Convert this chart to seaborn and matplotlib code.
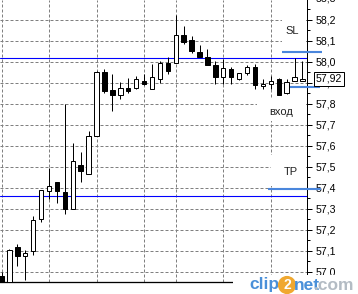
import numpy as np
import pandas as pd
import matplotlib
matplotlib.use("Agg")
import matplotlib.pyplot as plt
from matplotlib.patches import Rectangle
from matplotlib.ticker import MultipleLocator, FuncFormatter, NullFormatter
from matplotlib.transforms import blended_transform_factory
import seaborn as sns

# ---------------- data ----------------
opens  = [56.98, 56.94, 57.118, 57.078, 57.099, 57.254, 57.387, 57.429, 57.380, 57.298,
          57.508, 57.465, 57.646, 57.954, 57.867, 57.844, 57.875, 57.875, 57.908, 57.873,
          57.917, 57.994, 57.994, 58.129, 58.103, 58.048, 58.025, 57.984, 57.927, 57.965,
          57.917, 57.946, 57.975, 57.886, 57.894, 57.919, 57.854, 57.908, 57.908]
highs  = [57.00, 57.11, 57.133, 57.106, 57.267, 57.390, 57.497, 57.430, 57.799, 57.613,
          57.571, 57.671, 57.955, 57.965, 57.943, 57.905, 57.924, 57.933, 57.943, 57.990,
          58.003, 58.022, 58.224, 58.171, 58.124, 58.081, 58.060, 58.006, 58.016, 57.978,
          57.948, 57.984, 57.989, 57.921, 57.933, 57.925, 57.919, 58.021, 58.003]
lows   = [56.93, 56.93, 57.029, 56.962, 57.082, 57.238, 57.348, 57.330, 57.275, 57.298,
          57.430, 57.465, 57.646, 57.851, 57.768, 57.822, 57.851, 57.870, 57.889, 57.870,
          57.899, 57.943, 57.994, 58.087, 58.041, 58.022, 57.984, 57.895, 57.895, 57.895,
          57.913, 57.940, 57.870, 57.870, 57.870, 57.844, 57.848, 57.908, 57.908]
closes = [56.94, 57.105, 57.078, 57.090, 57.248, 57.390, 57.408, 57.387, 57.298, 57.529,
          57.480, 57.646, 57.954, 57.863, 57.844, 57.875, 57.863, 57.917, 57.894, 57.927,
          57.994, 57.956, 58.127, 58.094, 58.054, 58.025, 57.984, 57.927, 57.973, 57.927,
          57.946, 57.978, 57.892, 57.897, 57.908, 57.844, 57.906, 57.927, 57.92]
bar_index = list(range(len(opens)))

grid_bars = [0, 6, 12, 18, 22, 28, 34]          # vertical separators
blue_levels = [58.018, 57.363]                   # long blue lines
trade_names = ["SL", "вход", "TP"]
trade_levels = [58.049, 57.883, 57.395]
last_price = 57.92

df = pd.DataFrame({"i": bar_index, "o": opens, "h": highs, "l": lows, "c": closes})
df["up"] = df["c"] >= df["o"]

# ---------------- figure ----------------
W, H = 358, 294
sns.set_theme(style="white")
plt.rcParams["font.family"] = ["Liberation Sans", "DejaVu Sans"]

fig = plt.figure(figsize=(W / 100, H / 100), dpi=100)
fig.patch.set_facecolor("white")
ax = fig.add_axes([0, 12 / H, 307 / W, 282 / H])
ax.set_facecolor("white")

PX = 0.72  # one pixel in points


def fx(px):
    return px / W


def fy(py):
    return 1 - py / H


def xd(px):
    return (px - 1.5) / 7.92


# grid
ax.set_axisbelow(True)
ax.yaxis.grid(True, which="major", color="#808080", linestyle=(0, (3, 2)), linewidth=PX)
ax.xaxis.grid(False)
for g in grid_bars:
    ax.axvline(g, color="#808080", linestyle=(0, (3, 2)), linewidth=PX, zorder=0.5)

# long blue lines
for lv in blue_levels:
    ax.axhline(lv, color="#0000ff", linewidth=PX * 1.1, zorder=1)

# candles: wicks
ax.vlines(df["i"], df["l"], df["h"], color="black", linewidth=PX, zorder=2)
# bodies
bw = 0.56
bottoms = np.minimum(df["o"], df["c"])
heights = np.maximum(np.abs(df["c"] - df["o"]), 0.002)
faces = ["white" if u else "black" for u in df["up"]]
ax.bar(df["i"], heights, bottom=bottoms, width=bw, color=faces,
       edgecolor="black", linewidth=PX, zorder=3)

ax.set_xlim(-0.19, 38.57)
ax.set_ylim(56.952, 58.295)

# axes styling
sns.despine(ax=ax, left=True, top=True, right=False, bottom=False)
ax.spines["right"].set_color("black")
ax.spines["right"].set_linewidth(PX)
ax.spines["bottom"].set_color("black")
ax.spines["bottom"].set_linewidth(PX * 1.3)
ax.set_xticks([])
ax.yaxis.tick_right()
ax.yaxis.set_major_locator(MultipleLocator(0.1))
ax.yaxis.set_minor_locator(MultipleLocator(0.05))
ax.yaxis.set_major_formatter(FuncFormatter(lambda v, p: f"{v:.1f}".replace(".", ",")))
ax.yaxis.set_minor_formatter(NullFormatter())
ax.tick_params(axis="y", which="major", length=5 * PX, width=PX, color="black",
               pad=2.5, labelsize=7.6, labelcolor="black", right=True, left=False)
ax.tick_params(axis="y", which="minor", length=3 * PX, width=PX, color="black",
               right=True, left=False)

bl = blended_transform_factory(ax.transAxes, ax.transData)

# partially visible top label (outside the view limits)
ax.text(1.0 + 8.6 / 307, 58.3, "58,3", transform=bl,
        ha="left", va="center", fontsize=7.6, color="black", clip_on=False)

# white boxes behind labels (hide grid)
for (x0, y0, x1, y1) in [(282, 12, 306, 48), (257, 98, 306, 121), (271, 155, 306, 186)]:
    ax.add_patch(Rectangle((fx(x0), fy(y1)), fx(x1) - fx(x0), fy(y0) - fy(y1),
                           transform=fig.transFigure, facecolor="white", edgecolor="none",
                           zorder=1.5))

# trade level short lines
xspans = [(281.7, 322), (290, 320), (268, 321)]
for lv, (a, b) in zip(trade_levels, xspans):
    ax.hlines(lv, xd(a), xd(b), color="#4a86dc", linewidth=2.1 * PX, zorder=6, clip_on=False)

# trade labels
label_pos = [(292.5, 31), (281.5, 112), (291, 172)]
for name, (px, py) in zip(trade_names, label_pos):
    fig.text(fx(px), fy(py), name, ha="center", va="center", fontsize=8, color="#222222",
             zorder=7)

# last price box
ax.text(316 / 307, last_price, f"{last_price:.2f}".replace(".", ","), transform=bl,
        ha="left", va="center", fontsize=7.6, color="black", zorder=8, clip_on=False,
        bbox=dict(boxstyle="square,pad=0.18", facecolor="white", edgecolor="black", linewidth=PX))

# watermark
fig.add_artist(Rectangle((fx(233), 0), 1 - fx(233), fy(274.5), transform=fig.transFigure,
                         facecolor="white", edgecolor="none", zorder=10))
wy = fy(285)
fig.text(fx(249), wy, "clip", ha="left", va="center", fontsize=12.5, fontweight="bold",
         color="#4a90d9", zorder=11)
fig.text(fx(287), wy, "2", ha="center", va="center", fontsize=10, fontweight="bold",
         color="white", zorder=11,
         bbox=dict(boxstyle="circle,pad=0.15", facecolor="#f0a830", edgecolor="none"))
fig.text(fx(294), wy, "net", ha="left", va="center", fontsize=12.5, fontweight="bold",
         color="#4a90d9", zorder=11)
fig.text(fx(314), wy, ".com", ha="left", va="center", fontsize=12.5, fontweight="bold",
         color="#b4bcc4", zorder=11)

fig.savefig("out.png", dpi=100, facecolor="white")
